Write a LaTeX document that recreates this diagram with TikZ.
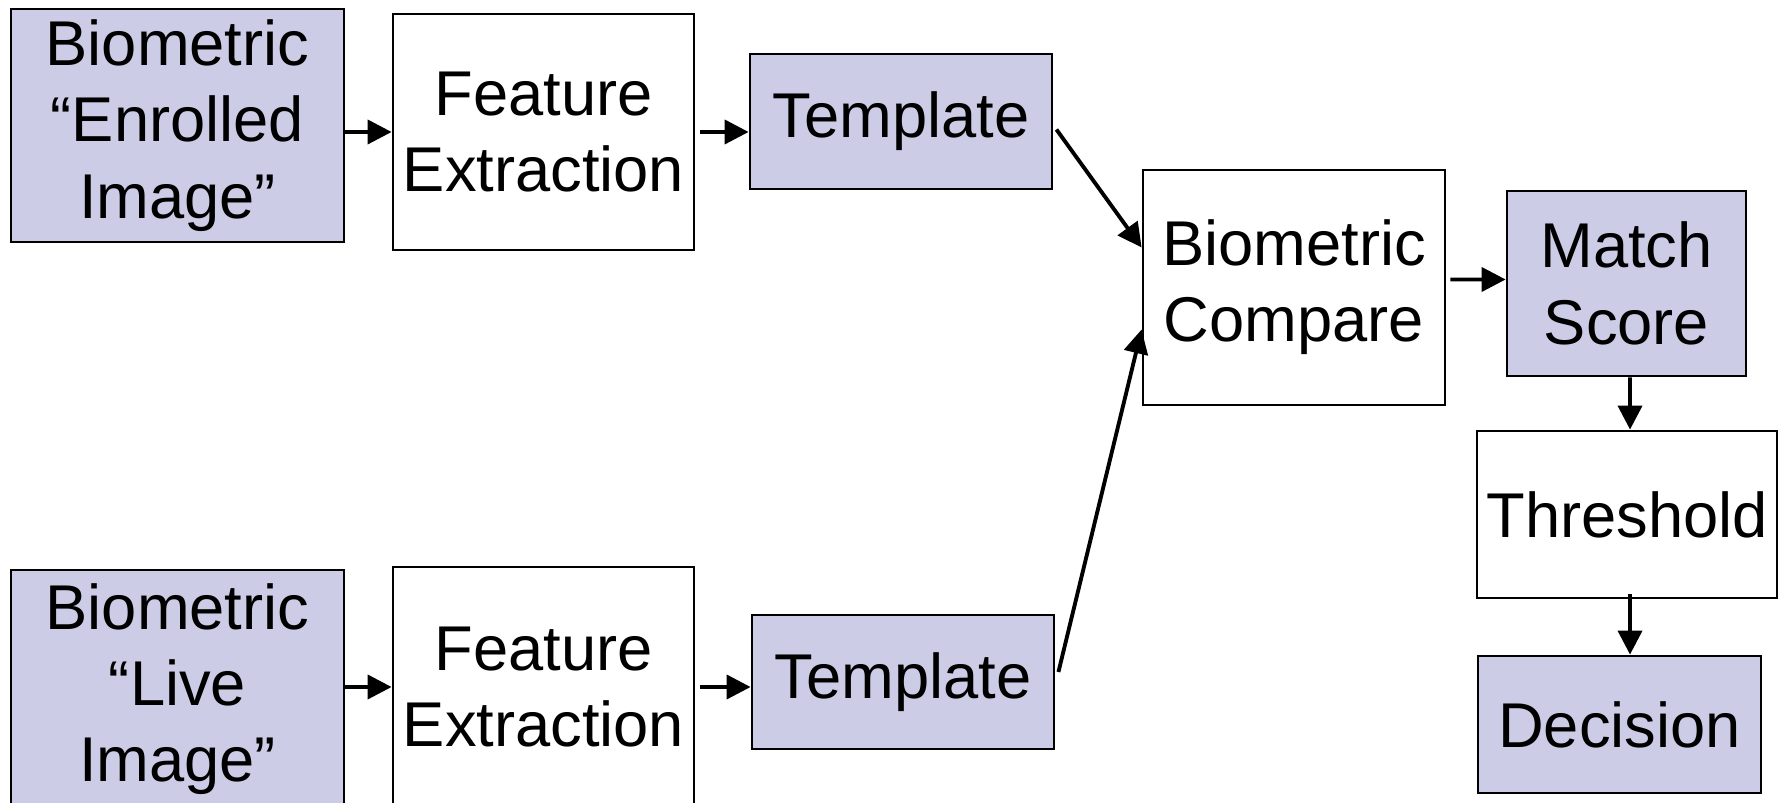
\documentclass[tikz,border=0pt]{standalone}
\usepackage{fontspec}
\setmainfont{Liberation Sans}
\usepackage{tikz}
\usetikzlibrary{arrows.meta, positioning}

\definecolor{boxfill}{RGB}{204,204,230}

\begin{document}
\begin{tikzpicture}[scale=1,
  every node/.style={draw,thick,align=center,inner sep=0pt,
    font=\fontsize{18}{21.7}\selectfont},
  shaded/.style={fill=boxfill},
  arrow/.style={-{Triangle[length=0.24cm,width=0.24cm]},line width=1.1pt}]
  \useasboundingbox (0,0) rectangle (17.85,8.03);
  \clip (0,0) rectangle (17.85,8.03);
  % Enrolled row
  \node[shaded,minimum width=3.33cm,minimum height=2.33cm] (enr) at (1.775,6.775) {Biometric\\``Enrolled\\Image''};
  \node[minimum width=3.01cm,minimum height=2.36cm] (fe1) at (5.435,6.71) {Feature\\Extraction};
  \node[shaded,minimum width=3.02cm,minimum height=1.35cm] (tpl1) at (9.01,6.815) {Template};
  % Live row
  \node[shaded,minimum width=3.33cm,minimum height=2.38cm] (live) at (1.775,1.14) {Biometric\\``Live\\Image''};
  \node[minimum width=3.01cm,minimum height=2.40cm] (fe2) at (5.435,1.16) {Feature\\Extraction};
  \node[shaded,minimum width=3.02cm,minimum height=1.34cm] (tpl2) at (9.03,1.21) {Template};
  % Compare and decision
  \node[minimum width=3.02cm,minimum height=2.35cm] (cmp) at (12.94,5.155) {Biometric\\Compare};
  \node[shaded,minimum width=2.39cm,minimum height=1.85cm] (score) at (16.265,5.195) {Match\\Score};
  \node[minimum width=3.00cm,minimum height=1.67cm] (thr) at (16.27,2.885) {Threshold};
  \node[shaded,minimum width=2.83cm,minimum height=1.37cm] (dec) at (16.195,0.785) {Decision};

  % Arrows
  \draw[arrow] (enr.east |- fe1.west) -- (fe1.west);
  \draw[arrow] ([xshift=0.05cm]fe1.east) -- (fe1.east -| tpl1.west);
  \draw[arrow] (live.east |- fe2.west) -- (fe2.west);
  \draw[arrow] ([xshift=0.05cm]fe2.east) -- (fe2.east -| tpl2.west);
  \draw[arrow] ([xshift=0.03cm,yshift=-0.08cm]tpl1.east) -- ([yshift=0.4cm]cmp.west);
  \draw[arrow] ([xshift=0.03cm,yshift=0.1cm]tpl2.east) -- ([yshift=-0.42cm]cmp.west);
  \draw[arrow] ([xshift=0.04cm,yshift=0.08cm]cmp.east) -- ([yshift=0.04cm]score.west);
  \draw[arrow] ([xshift=0.035cm]score.south) -- ([xshift=0.03cm]thr.north);
  \draw[arrow] ([xshift=0.03cm,yshift=0.05cm]thr.south) -- ([xshift=0.03cm]thr.south |- dec.north);
\end{tikzpicture}
\end{document}
